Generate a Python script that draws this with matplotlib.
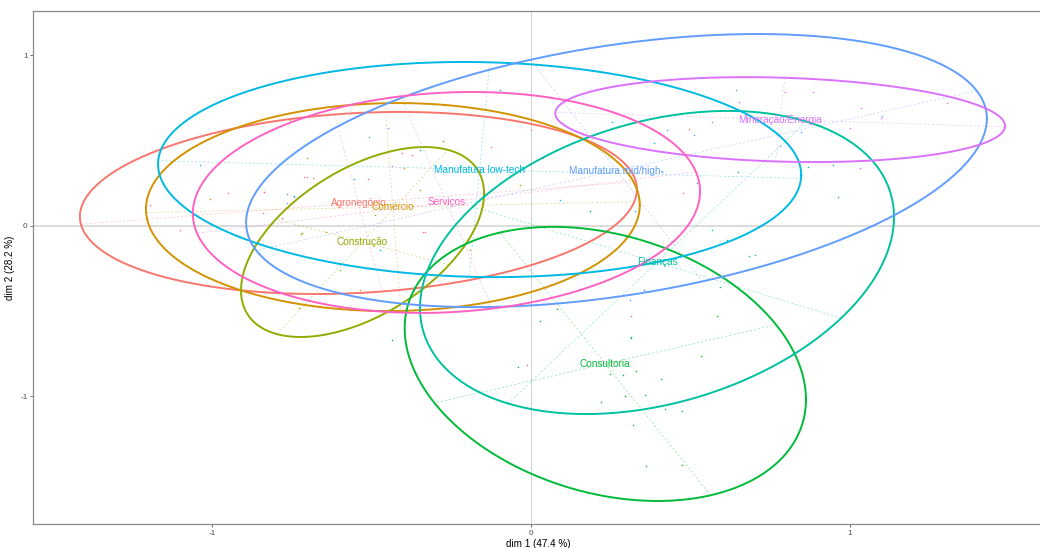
import numpy as np
import matplotlib
matplotlib.use("Agg")
import matplotlib.pyplot as plt

plt.rcParams['font.family'] = ['Liberation Sans', 'DejaVu Sans']
plt.rcParams['axes.unicode_minus'] = False

# grupos (setores) e cores
setores = ['Agronegócio', 'Comércio', 'Construção', 'Consultoria', 'Finanças',
           'Manufatura low-tech', 'Manufatura mid/high-', 'Mineração/Energia', 'Serviços']
cores = ['#F8766D', '#D39200', '#93AA00', '#00BA38', '#00C19F',
         '#00B9E3', '#619CFF', '#DB72FB', '#FF61C3']

# centróides (dim 1, dim 2)
centro_x = [-0.541, -0.433, -0.528, 0.233, 0.395, -0.161, 0.268, 0.781, -0.265]
centro_y = [0.135, 0.111, -0.094, -0.809, -0.214, 0.331, 0.325, 0.624, 0.138]

# dispersão das elipses (desvio x, desvio y, correlação)
desvio_x = [0.873, 0.774, 0.381, 0.629, 0.743, 1.008, 1.161, 0.705, 0.795]
desvio_y = [0.534, 0.610, 0.557, 0.804, 0.889, 0.631, 0.801, 0.249, 0.648]
correl = [0.15, 0.02, 0.51, -0.26, 0.30, -0.05, 0.38, -0.15, 0.10]

# observações individuais por setor
pontos = {
    'Agronegócio': [(-0.950, 0.194), (-0.837, 0.199), (-0.702, 0.287), (-0.840, 0.076),
                    (-0.683, 0.282), (-0.404, 0.428), (-0.125, 0.463), (0.000, 0.563),
                    (0.313, -0.528), (0.495, 0.569), (-0.332, -0.035), (-1.194, 0.123),
                    (-1.100, -0.023)],
    'Comércio': [(-0.643, -0.035), (-0.398, 0.340), (-0.702, 0.399), (-1.006, 0.158),
                 (-0.191, -0.141), (-0.034, 0.240), (-0.536, -0.375), (-0.755, 0.622)],
    'Construção': [(-0.721, -0.047), (-0.727, -0.481), (-0.755, -0.393), (-0.276, 0.499),
                   (-0.718, -0.041), (-0.489, 0.065), (-0.348, 0.211), (-0.599, -0.258)],
    'Consultoria': [(0.028, -0.557), (0.082, -0.487), (0.313, -0.657), (0.583, -0.528),
                    (0.533, -0.762), (0.329, -0.850), (0.288, -0.874), (0.248, -0.868),
                    (0.408, -0.897), (0.357, -0.991), (0.295, -0.997), (0.219, -1.032),
                    (0.473, -1.085), (0.420, -1.073), (0.320, -1.167), (0.361, -1.408),
                    (0.473, -1.402), (-0.041, -0.827), (-0.436, -0.669), (0.185, 0.088)],
    'Finanças': [(0.962, 0.170), (0.868, 0.346), (0.947, 0.358), (0.567, -0.023),
                 (0.614, -0.082), (0.683, -0.176), (0.702, -0.170), (0.592, -0.358),
                 (0.354, -0.375), (0.520, 0.252), (0.649, 0.317), (0.313, -0.651)],
    'Manufatura low-tech': [(0.254, 0.610), (0.386, 0.487), (0.326, 0.088), (-0.555, 0.276),
                            (-0.743, 0.176), (-1.038, 0.358), (-0.348, 0.446), (-0.097, 0.798),
                            (0.091, 0.152), (-0.473, -0.141)],
    'Manufatura mid/high-': [(-0.448, 0.575), (-0.508, 0.522), (-0.743, 0.170), (-0.765, 0.135),
                             (-0.781, 0.622), (-0.765, 0.188), (0.643, 0.798), (0.426, 0.563),
                             (0.511, 0.534), (0.846, 0.551), (0.781, 0.469), (0.411, 0.317),
                             (1.100, 0.645), (0.310, -0.434)],
    'Mineração/Energia': [(0.796, 0.786), (0.884, 0.786), (1.034, 0.692), (1.097, 0.633),
                          (1.000, 0.575), (0.652, 0.727), (0.567, 0.610), (1.031, 0.340),
                          (0.765, 0.381), (1.304, 0.721)],
    'Serviços': [(-0.712, 0.287), (-0.511, 0.276), (-0.837, 0.199), (-0.339, -0.035),
                 (-0.436, 0.352), (-0.373, 0.416), (0.038, 0.399), (-0.781, 0.047),
                 (-0.013, -0.815), (0.476, 0.194)],
}

fig = plt.figure(figsize=(10.4, 5.48), dpi=100)
ax = fig.add_axes([33 / 1040, 24 / 548, 1010 / 1040, 513 / 548])

# linhas de referência em zero
ax.axhline(0, color='#DCDCDC', lw=1.4, zorder=0)
ax.axvline(0, color='#D0D0D0', lw=0.7, zorder=0)

t = np.linspace(0, 2 * np.pi, 300)
for i, nome in enumerate(setores):
    cx, cy = centro_x[i], centro_y[i]
    sx, sy, r = desvio_x[i], desvio_y[i], correl[i]
    cor = cores[i]

    # elipse
    ex = cx + sx * np.cos(t)
    ey = cy + sy * (r * np.cos(t) + np.sqrt(1 - r ** 2) * np.sin(t))
    ax.plot(ex, ey, color=cor, lw=1.4, zorder=3)

    # eixos da elipse (tracejados)
    cov = np.array([[sx ** 2, r * sx * sy], [r * sx * sy, sy ** 2]])
    vals, vecs = np.linalg.eigh(cov)
    for k in range(2):
        d = np.sqrt(vals[k]) * vecs[:, k]
        ax.plot([cx - d[0], cx + d[0]], [cy - d[1], cy + d[1]], color=cor,
                lw=0.5, ls=(0, (3, 3)), alpha=0.45, zorder=2)

    # observações
    xy = np.array(pontos[nome])
    ax.scatter(xy[:, 0], xy[:, 1], s=1.2, color=cor, linewidths=0, zorder=2)

    ax.text(cx, cy, nome, color=cor, fontsize=7.2, ha='center', va='center', zorder=4)

ax.set_xlim(-1.561, 1.605)
ax.set_ylim(-1.748, 1.261)
ax.set_xticks([-1, 0, 1])
ax.set_yticks([-1, 0, 1])
ax.tick_params(length=2, width=0.5, color='#333333', labelsize=5.9, labelcolor='#4D4D4D', pad=2)
for s in ax.spines.values():
    s.set_color('#8A8A8A')
    s.set_linewidth(0.9)

ax.set_xlabel('dim 1 (47.4 %)', fontsize=7.1, labelpad=2)
ax.set_ylabel('dim 2 (28.2 %)', fontsize=7.1, labelpad=4)

fig.savefig('out.png', dpi=100)
